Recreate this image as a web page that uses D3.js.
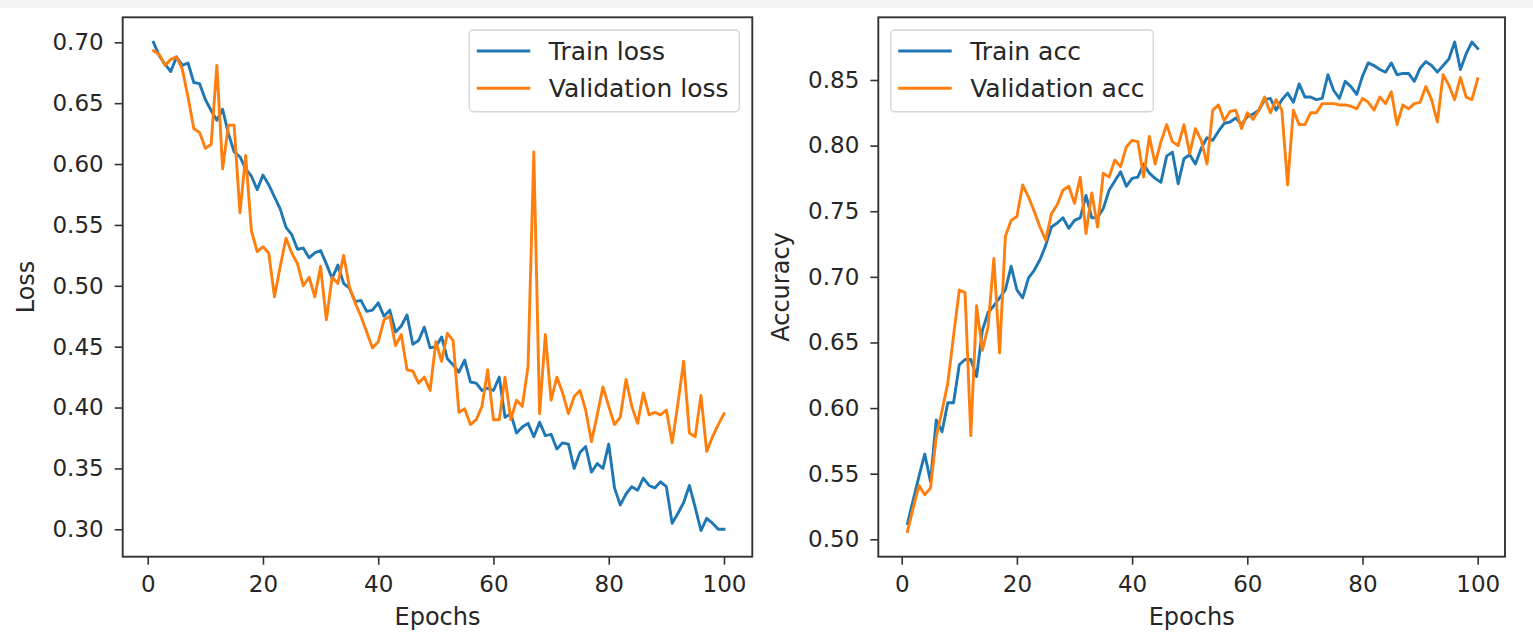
<!DOCTYPE html>
<html>
<head>
<meta charset="utf-8">
<script src="https://cdn.jsdelivr.net/npm/d3@7"></script>
<style>
  html, body { margin: 0; padding: 0; background: #fff; }
  svg { display: block; }
  text { font-family: "DejaVu Sans", sans-serif; fill: #262626; }
</style>
</head>
<body>
<svg id="chart" width="1533" height="639"></svg>
<script>
const epochs = d3.range(1, 101);

const trainLoss = [
  0.700,0.689,0.682,0.676,0.688,0.681,0.683,0.667,0.666,0.653,
  0.644,0.636,0.645,0.625,0.610,0.606,0.596,0.590,0.579,0.591,
  0.583,0.573,0.563,0.548,0.542,0.530,0.531,0.523,0.527,0.529,
  0.518,0.506,0.517,0.502,0.498,0.487,0.488,0.479,0.480,0.486,
  0.475,0.480,0.462,0.467,0.476,0.452,0.455,0.466,0.449,0.450,
  0.458,0.440,0.435,0.429,0.439,0.421,0.420,0.414,0.416,0.414,
  0.425,0.392,0.395,0.379,0.384,0.387,0.376,0.388,0.377,0.378,
  0.366,0.371,0.370,0.350,0.363,0.368,0.347,0.354,0.350,0.370,
  0.334,0.320,0.329,0.335,0.332,0.342,0.336,0.334,0.339,0.335,
  0.305,0.313,0.322,0.336,0.318,0.299,0.309,0.305,0.300,0.300
];
const valLoss = [
  0.693,0.690,0.681,0.686,0.688,0.678,0.655,0.629,0.626,0.613,
  0.616,0.681,0.596,0.632,0.632,0.560,0.607,0.545,0.528,0.532,
  0.527,0.491,0.516,0.539,0.527,0.518,0.500,0.507,0.491,0.516,
  0.472,0.507,0.502,0.525,0.499,0.486,0.475,0.462,0.449,0.454,
  0.472,0.475,0.451,0.460,0.431,0.430,0.420,0.425,0.414,0.454,
  0.438,0.461,0.455,0.396,0.399,0.386,0.390,0.401,0.431,0.390,
  0.390,0.425,0.390,0.406,0.401,0.434,0.610,0.395,0.460,0.406,
  0.425,0.412,0.395,0.409,0.414,0.398,0.372,0.394,0.417,0.401,
  0.386,0.392,0.423,0.401,0.387,0.412,0.394,0.396,0.394,0.398,
  0.371,0.403,0.438,0.379,0.376,0.410,0.364,0.376,0.386,0.395
];
const trainAcc = [
  0.512,0.530,0.548,0.565,0.544,0.591,0.582,0.604,0.604,0.633,
  0.637,0.637,0.624,0.659,0.673,0.678,0.684,0.690,0.708,0.690,
  0.684,0.699,0.705,0.713,0.724,0.738,0.741,0.745,0.737,0.743,
  0.745,0.762,0.745,0.745,0.752,0.766,0.773,0.780,0.769,0.775,
  0.776,0.786,0.779,0.775,0.772,0.792,0.795,0.771,0.790,0.793,
  0.786,0.798,0.806,0.804,0.811,0.817,0.818,0.821,0.816,0.822,
  0.824,0.827,0.835,0.836,0.827,0.835,0.840,0.833,0.847,0.837,
  0.837,0.835,0.836,0.854,0.842,0.836,0.849,0.845,0.839,0.853,
  0.863,0.861,0.858,0.856,0.863,0.854,0.855,0.855,0.849,0.859,
  0.864,0.861,0.856,0.861,0.866,0.879,0.858,0.870,0.879,0.874
];
const valAcc = [
  0.506,0.524,0.541,0.534,0.539,0.578,0.598,0.619,0.655,0.690,
  0.688,0.579,0.678,0.644,0.662,0.714,0.642,0.731,0.743,0.746,
  0.770,0.761,0.750,0.738,0.728,0.748,0.755,0.766,0.769,0.756,
  0.776,0.733,0.764,0.738,0.779,0.776,0.789,0.784,0.799,0.804,
  0.803,0.776,0.807,0.786,0.803,0.816,0.803,0.800,0.816,0.794,
  0.813,0.804,0.786,0.827,0.831,0.819,0.826,0.827,0.813,0.825,
  0.820,0.827,0.837,0.825,0.835,0.827,0.770,0.827,0.816,0.816,
  0.825,0.825,0.832,0.832,0.832,0.831,0.831,0.830,0.828,0.836,
  0.833,0.827,0.837,0.832,0.841,0.816,0.831,0.828,0.832,0.833,
  0.845,0.835,0.818,0.854,0.846,0.835,0.852,0.837,0.835,0.851
];

const xTicks = [0, 20, 40, 60, 80, 100];
const lossTicks = [0.30, 0.35, 0.40, 0.45, 0.50, 0.55, 0.60, 0.65, 0.70];
const accTicks = [0.50, 0.55, 0.60, 0.65, 0.70, 0.75, 0.80, 0.85];

const colors = { train: "#1f77b4", val: "#ff7f0e" };

const svg = d3.select("#chart");
svg.append("rect").attr("x", 0).attr("y", 0).attr("width", 1533).attr("height", 8).attr("fill", "#f3f3f3");

function panel(opts) {
  const { left, right, top, bottom, x0, x100, yDomain, yRange, yTicks, train, val,
          ylabel, ylabelX, legend, labels } = opts;
  const g = svg.append("g");
  const x = d3.scaleLinear().domain([0, 100]).range([x0, x100]);
  const y = d3.scaleLinear().domain(yDomain).range(yRange);

  const line = d3.line().x((d, i) => x(epochs[i])).y(d => y(d));

  const clipId = "clip" + Math.round(left);
  svg.append("clipPath").attr("id", clipId)
    .append("rect").attr("x", left).attr("y", top).attr("width", right - left).attr("height", bottom - top);

  const lines = g.append("g").attr("clip-path", `url(#${clipId})`);
  lines.append("path").datum(train).attr("d", line)
    .attr("fill", "none").attr("stroke", colors.train).attr("stroke-width", 2.9)
    .attr("stroke-linejoin", "round").attr("stroke-linecap", "square");
  lines.append("path").datum(val).attr("d", line)
    .attr("fill", "none").attr("stroke", colors.val).attr("stroke-width", 2.9)
    .attr("stroke-linejoin", "round").attr("stroke-linecap", "square");

  const xa = g.append("g").attr("transform", `translate(0,${bottom})`)
    .call(d3.axisBottom(x).tickValues(xTicks).tickSize(8).tickPadding(11).tickFormat(d3.format("d")));
  const ya = g.append("g").attr("transform", `translate(${left},0)`)
    .call(d3.axisLeft(y).tickValues(yTicks).tickSize(8).tickPadding(11).tickFormat(d3.format(".2f")));
  [xa, ya].forEach(a => {
    a.select(".domain").remove();
    a.selectAll("line").attr("stroke", "#333").attr("stroke-width", 1.6);
    a.selectAll("text").attr("font-size", 23).attr("font-family", "DejaVu Sans, sans-serif").attr("fill", "#333");
  });

  g.append("rect").attr("x", left).attr("y", top).attr("width", right - left).attr("height", bottom - top)
    .attr("fill", "none").attr("stroke", "#333").attr("stroke-width", 1.9);

  g.append("text").attr("x", (left + right) / 2).attr("y", 625).attr("text-anchor", "middle")
    .attr("font-size", 24).attr("fill", "#333").text("Epochs");
  g.append("text").attr("transform", `translate(${ylabelX},${(top + bottom) / 2}) rotate(-90)`)
    .attr("text-anchor", "middle").attr("font-size", 24).attr("fill", "#333").text(ylabel);

  const lg = g.append("g");
  lg.append("rect").attr("x", legend.x).attr("y", legend.y).attr("width", legend.w).attr("height", legend.h)
    .attr("rx", 4).attr("fill", "#fff").attr("fill-opacity", 0.8).attr("stroke", "#d6d6d6").attr("stroke-width", 1.4);
  const items = [{ c: colors.train, t: labels[0] }, { c: colors.val, t: labels[1] }];
  items.forEach((it, i) => {
    const ly = legend.y + 21 + i * 37.3;
    lg.append("line").attr("x1", legend.x + 7.5).attr("x2", legend.x + 61).attr("y1", ly).attr("y2", ly)
      .attr("stroke", it.c).attr("stroke-width", 2.9);
    lg.append("text").attr("x", legend.x + 79.5).attr("y", ly + 9).attr("font-size", 25).attr("fill", "#333").text(it.t);
  });
}

panel({
  left: 122.7, right: 752.3, top: 17.3, bottom: 556.7,
  x0: 147.7, x100: 724,
  yDomain: [0.30, 0.70], yRange: [529.3, 42.3], yTicks: lossTicks,
  train: trainLoss, val: valLoss, ylabel: "Loss", ylabelX: 34,
  legend: { x: 469.3, y: 30, w: 270, h: 81.7 },
  labels: ["Train loss", "Validation loss"]
});
panel({
  left: 878.3, right: 1505, top: 17.3, bottom: 556.7,
  x0: 901.7, x100: 1477.7,
  yDomain: [0.50, 0.85], yRange: [539.3, 80], yTicks: accTicks,
  train: trainAcc, val: valAcc, ylabel: "Accuracy", ylabelX: 789,
  legend: { x: 890.7, y: 30, w: 262.6, h: 81.7 },
  labels: ["Train acc", "Validation acc"]
});
</script>
</body>
</html>
